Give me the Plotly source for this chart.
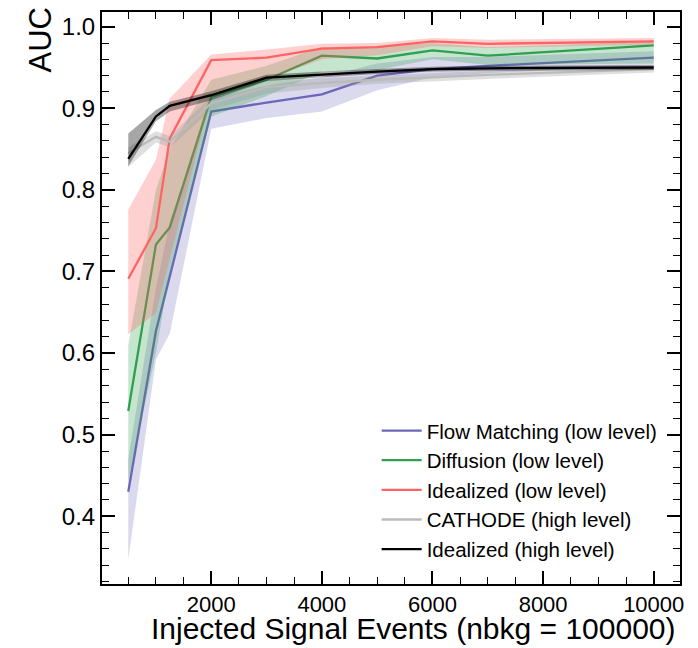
import plotly.graph_objects as go

# ---- data ----
injected = [500, 1000, 1250, 2000, 3000, 4000, 5000, 6000, 7000, 10000]

fm_mean = [0.430, 0.627, 0.694, 0.896, 0.907, 0.917, 0.940, 0.948, 0.952, 0.962]
fm_lo   = [0.347, 0.592, 0.624, 0.875, 0.888, 0.896, 0.922, 0.938, 0.943, 0.953]
fm_hi   = [0.470, 0.680, 0.760, 0.912, 0.928, 0.938, 0.955, 0.963, 0.963, 0.970]

df_mean = [0.529, 0.733, 0.754, 0.914, 0.935, 0.9645, 0.961, 0.971, 0.9645, 0.977]
df_lo   = [0.443, 0.600, 0.700, 0.890, 0.915, 0.945, 0.947, 0.960, 0.953, 0.955]
df_hi   = [0.610, 0.800, 0.850, 0.935, 0.952, 0.975, 0.975, 0.980, 0.975, 0.982]

il_mean = [0.691, 0.753, 0.863, 0.959, 0.962, 0.973, 0.975, 0.982, 0.979, 0.982]
il_lo   = [0.623, 0.649, 0.716, 0.915, 0.935, 0.960, 0.965, 0.976, 0.974, 0.978]
il_hi   = [0.776, 0.837, 0.912, 0.966, 0.972, 0.979, 0.980, 0.986, 0.984, 0.986]

ca_mean = [0.845, 0.865, 0.859, 0.906, 0.926, 0.931, 0.935, 0.938, 0.941, 0.948]
ca_lo   = [0.828, 0.858, 0.852, 0.898, 0.918, 0.925, 0.930, 0.933, 0.936, 0.944]
ca_hi   = [0.852, 0.872, 0.866, 0.914, 0.933, 0.937, 0.940, 0.943, 0.946, 0.952]

ih_mean = [0.838, 0.890, 0.903, 0.916, 0.9375, 0.9417, 0.945, 0.948, 0.949, 0.950]
ih_lo   = [0.829, 0.884, 0.896, 0.910, 0.933, 0.938, 0.942, 0.945, 0.946, 0.947]
ih_hi   = [0.869, 0.898, 0.908, 0.921, 0.941, 0.945, 0.948, 0.951, 0.952, 0.953]

labels = ["Flow Matching (low level)", "Diffusion (low level)", "Idealized (low level)",
          "CATHODE (high level)", "Idealized (high level)"]

x_tickvals = [2000, 4000, 6000, 8000, 10000]
x_ticktext = ["2000", "4000", "6000", "8000", "10000"]
y_tickvals = [0.4, 0.5, 0.6, 0.7, 0.8, 0.9, 1.0]
y_ticktext = ["0.4", "0.5", "0.6", "0.7", "0.8", "0.9", "1.0"]

series = [
    (labels[0], fm_mean, fm_lo, fm_hi, "#6C66B8", "rgba(108,102,184,0.25)"),
    (labels[1], df_mean, df_lo, df_hi, "#2EA050", "rgba(46,160,80,0.28)"),
    (labels[2], il_mean, il_lo, il_hi, "#FF6464", "rgba(255,100,100,0.30)"),
    (labels[3], ca_mean, ca_lo, ca_hi, "#BBBBBB", "rgba(150,150,150,0.30)"),
    (labels[4], ih_mean, ih_lo, ih_hi, "#000000", "rgba(0,0,0,0.35)"),
]

FONT = "Liberation Sans, Arial, Helvetica, sans-serif"

fig = go.Figure()
for i, (name, mean, lo, hi, col, fill) in enumerate(series):
    g = f"g{i}"
    fig.add_trace(go.Scatter(x=injected, y=hi, mode="lines", line=dict(width=0, color=fill),
                             showlegend=False, legendgroup=g, hoverinfo="skip"))
    fig.add_trace(go.Scatter(x=injected, y=lo, mode="lines", line=dict(width=0, color=fill),
                             fill="tonexty", fillcolor=fill,
                             showlegend=False, legendgroup=g, hoverinfo="skip"))
    fig.add_trace(go.Scatter(x=injected, y=mean, mode="lines", name=name,
                             line=dict(color=col, width=2.3), legendgroup=g))

axis_common = dict(
    showline=True, linewidth=2, linecolor="black", mirror="allticks",
    ticks="inside", ticklen=13, tickwidth=1.5, tickcolor="black",
    showgrid=False, zeroline=False,
)

fig.update_xaxes(range=[25, 10475], tickvals=x_tickvals, ticktext=x_ticktext,
                 tickfont=dict(size=22, color="black", family=FONT),
                 minor=dict(ticks="inside", ticklen=7, tickwidth=1.2, tickcolor="black",
                            dtick=500, tick0=0, showgrid=False),
                 **axis_common)
fig.update_yaxes(range=[0.317, 1.018], tickvals=y_tickvals, ticktext=y_ticktext,
                 tickfont=dict(size=24, color="black", family=FONT),
                 minor=dict(ticks="inside", ticklen=7, tickwidth=1.2, tickcolor="black",
                            dtick=0.02, tick0=0, showgrid=False),
                 **axis_common)

fig.update_layout(
    width=698, height=648,
    margin=dict(l=94, r=26, t=2, b=72),
    plot_bgcolor="white", paper_bgcolor="white",
    font=dict(family=FONT, color="black"),
    legend=dict(x=0.97, xanchor="right", y=0.025, yanchor="bottom",
                bgcolor="rgba(0,0,0,0)", font=dict(size=20.5, family=FONT),
                itemwidth=40, tracegroupgap=0, traceorder="grouped"),
    annotations=[
        dict(text="AUC", xref="paper", yref="paper", x=0, y=1, xanchor="center", yanchor="top",
             xshift=-62, yshift=6, textangle=-90, showarrow=False,
             font=dict(size=31, family=FONT)),
        dict(text="Injected Signal Events (nbkg = 100000)", xref="paper", yref="paper",
             x=1, y=0, xanchor="right", yanchor="top", xshift=-2, yshift=-26,
             showarrow=False, font=dict(size=30, family=FONT)),
    ],
)

fig.write_html("out.html")
